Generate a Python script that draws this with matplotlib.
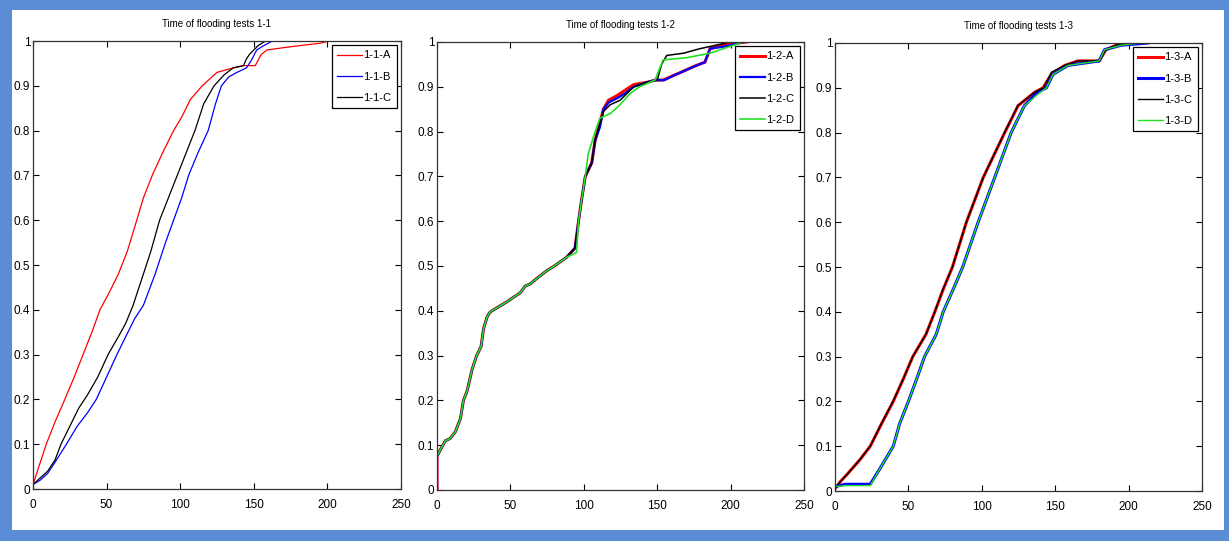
import matplotlib
matplotlib.use("Agg")
import matplotlib.pyplot as plt
from matplotlib.patches import Rectangle

plt.rcParams['font.family'] = ['Liberation Sans', 'DejaVu Sans']
plt.rcParams['font.stretch'] = 'condensed'

# ---- flooding tests 1-1 ----
t_11a = [0, 2, 5, 9, 15, 21.6, 28, 34, 40, 45.5, 52, 58, 64, 70.5, 75, 81, 88, 95.5, 101, 107,
         115, 125, 136, 143, 151, 155, 159, 170, 182, 195, 201, 205]
p_11a = [0.01, 0.03, 0.06, 0.10, 0.15, 0.20, 0.25, 0.30, 0.35, 0.40, 0.44, 0.48, 0.53, 0.60, 0.65, 0.70, 0.75, 0.80, 0.83, 0.87,
         0.90, 0.93, 0.94, 0.945, 0.945, 0.97, 0.98, 0.985, 0.99, 0.995, 1.0, 1.0]
t_11b = [0, 5, 10, 15, 22.7, 30, 37, 43, 50, 57, 63, 69, 75, 83, 90, 95.5, 101, 105.7, 112, 119,
         124, 128, 133, 138.6, 145, 148, 152, 157, 162.5]
p_11b = [0.01, 0.02, 0.035, 0.06, 0.10, 0.14, 0.17, 0.20, 0.25, 0.30, 0.34, 0.38, 0.41, 0.48, 0.55, 0.60, 0.65, 0.70, 0.75, 0.80,
         0.86, 0.90, 0.92, 0.93, 0.94, 0.955, 0.98, 0.99, 1.0]
t_11c = [0, 5, 10, 15, 19, 25, 31, 37, 44, 51, 58, 63, 68, 75, 80, 86, 92, 98, 104, 110,
         116, 123, 130, 136, 143, 145, 147, 150, 153, 158]
p_11c = [0.01, 0.025, 0.04, 0.065, 0.10, 0.14, 0.18, 0.21, 0.25, 0.30, 0.34, 0.37, 0.41, 0.48, 0.53, 0.60, 0.65, 0.70, 0.75, 0.80,
         0.86, 0.90, 0.925, 0.94, 0.945, 0.96, 0.97, 0.98, 0.99, 1.0]

# ---- flooding tests 1-2 ----
t_12a = [0, 0, 2.3, 5.7, 9, 12.5, 16, 18, 20.4, 24, 27, 30, 31.7, 34, 35.6, 37.4, 47.6, 52, 56.7, 60,
         63.5, 69, 75, 80, 88.5, 94, 96.4, 98.6, 101, 105.4, 107.7, 111, 113.4, 116.8, 122.5, 127, 134, 143, 148.8, 154,
         161, 168, 174.6, 182.5, 186, 197, 211]
p_12a = [0, 0.075, 0.09, 0.11, 0.115, 0.13, 0.16, 0.20, 0.22, 0.27, 0.30, 0.32, 0.36, 0.385, 0.395, 0.40, 0.42, 0.43, 0.44, 0.455,
         0.46, 0.475, 0.49, 0.50, 0.52, 0.54, 0.60, 0.65, 0.70, 0.73, 0.78, 0.82, 0.85, 0.87, 0.88, 0.89, 0.905, 0.91, 0.915, 0.915,
         0.925, 0.935, 0.945, 0.955, 0.985, 0.995, 1.0]
t_12b = [0, 0, 2.3, 5.7, 9, 12.5, 16, 18, 20.4, 24, 27, 30, 31.7, 34, 35.6, 37.4, 47.6, 52, 56.7, 60,
         63.5, 69, 75, 80, 88.5, 94, 96.4, 98.6, 101, 105.4, 107.7, 111, 113.4, 117, 123, 128, 134, 143, 148.8, 155,
         161, 168, 175, 182.5, 186, 196, 209]
p_12b = [0, 0.075, 0.09, 0.11, 0.115, 0.13, 0.16, 0.20, 0.22, 0.27, 0.30, 0.32, 0.36, 0.385, 0.395, 0.40, 0.42, 0.43, 0.44, 0.455,
         0.46, 0.475, 0.49, 0.50, 0.52, 0.54, 0.60, 0.65, 0.70, 0.73, 0.78, 0.81, 0.85, 0.865, 0.875, 0.885, 0.90, 0.91, 0.915, 0.915,
         0.925, 0.935, 0.945, 0.955, 0.985, 0.99, 1.0]
t_12c = [0, 0, 2.3, 5.7, 9, 12.5, 16, 18, 20.4, 24, 27, 30, 31.7, 34, 35.6, 37.4, 47.6, 52, 56.7, 60,
         63.5, 69, 75, 80, 88.5, 94, 96.4, 98.6, 101, 105.4, 107.7, 111, 113.4, 118, 124.7, 134, 143, 150, 153, 156.5,
         168, 179, 186, 199.6]
p_12c = [0, 0.075, 0.09, 0.11, 0.115, 0.13, 0.16, 0.20, 0.22, 0.27, 0.30, 0.32, 0.36, 0.385, 0.395, 0.40, 0.42, 0.43, 0.44, 0.455,
         0.46, 0.475, 0.49, 0.50, 0.52, 0.54, 0.60, 0.65, 0.70, 0.73, 0.78, 0.82, 0.845, 0.86, 0.87, 0.90, 0.91, 0.915, 0.95, 0.97,
         0.975, 0.985, 0.99, 1.0]
t_12d = [0, 0, 2.3, 5.7, 9, 12.5, 16, 18, 20.4, 24, 27, 30, 31.7, 34, 35.6, 37.4, 47.6, 52, 56.7, 60,
         63.5, 69, 75, 80, 88.5, 95, 96.4, 98.6, 101, 103, 107.7, 111, 118, 124.7, 131.5, 138, 148.5, 154, 170, 186,
         195, 208.6]
p_12d = [0, 0.075, 0.09, 0.11, 0.115, 0.13, 0.16, 0.20, 0.22, 0.27, 0.30, 0.32, 0.36, 0.385, 0.395, 0.40, 0.42, 0.43, 0.44, 0.455,
         0.46, 0.475, 0.49, 0.50, 0.52, 0.53, 0.60, 0.65, 0.70, 0.75, 0.80, 0.83, 0.84, 0.86, 0.885, 0.90, 0.915, 0.96, 0.965, 0.975,
         0.985, 1.0]

# ---- flooding tests 1-3 ----
t_13a = [0, 3.4, 9, 17, 24, 31.7, 39.7, 46.5, 53, 62, 68, 73.7, 80, 89.5, 101, 115.6, 124.7, 136, 141.7, 147.4,
         156.5, 165.5, 180, 184.5, 191.6, 198]
p_13a = [0.005, 0.02, 0.04, 0.07, 0.10, 0.15, 0.20, 0.25, 0.30, 0.35, 0.40, 0.45, 0.50, 0.60, 0.70, 0.80, 0.86, 0.89, 0.90, 0.93,
         0.95, 0.96, 0.96, 0.985, 0.995, 1.0]
t_13c = [0, 3.4, 9, 17, 24, 31.5, 39.5, 46.5, 53, 62, 68, 73.5, 80, 89.5, 101, 115.5, 124.5, 136, 142, 147.5,
         156.5, 165.5, 180, 184.5, 191.5, 199]
p_13c = [0.005, 0.02, 0.04, 0.07, 0.10, 0.15, 0.20, 0.25, 0.30, 0.35, 0.40, 0.45, 0.50, 0.60, 0.70, 0.80, 0.86, 0.89, 0.90, 0.935,
         0.95, 0.96, 0.96, 0.985, 0.995, 1.0]
t_13b = [0, 7, 24, 30.6, 39.7, 44, 50, 55.6, 61, 69, 73.7, 80.5, 87, 97.5, 108.8, 120, 129, 138, 144, 148.5,
         158.7, 180, 183.6, 195, 213]
p_13b = [0.01, 0.015, 0.015, 0.05, 0.10, 0.15, 0.20, 0.25, 0.30, 0.35, 0.40, 0.45, 0.50, 0.60, 0.70, 0.80, 0.86, 0.89, 0.90, 0.93,
         0.95, 0.96, 0.985, 0.995, 1.0]
t_13d = [0, 7, 24, 30.6, 39.7, 44, 50, 55.6, 61, 69, 73.7, 80.5, 87, 97.5, 108.8, 120, 129, 138, 144, 148.5,
         158.7, 180, 183.6, 195, 208]
p_13d = [0.01, 0.012, 0.012, 0.05, 0.10, 0.15, 0.20, 0.25, 0.30, 0.35, 0.40, 0.45, 0.50, 0.60, 0.70, 0.80, 0.86, 0.885, 0.90, 0.93,
         0.95, 0.96, 0.985, 0.995, 1.0]

x_ticks = [0, 50, 100, 150, 200, 250]
y_ticks = [0, 0.1, 0.2, 0.3, 0.4, 0.5, 0.6, 0.7, 0.8, 0.9, 1]
y_labels = ['0', '0.1', '0.2', '0.3', '0.4', '0.5', '0.6', '0.7', '0.8', '0.9', '1']

fig = plt.figure(figsize=(12.29, 5.41), dpi=100)

# blue frame round the whole figure
frame_col = '#5a8dd5'
W, H = 1229, 541
for (x, y, w, h) in [(0, 0, W, 11), (0, H - 10, W, 10), (0, 0, 12, H), (W - 5, 0, 5, H)]:
    fig.patches.append(Rectangle((x / W, y / H), w / W, h / H, transform=fig.transFigure,
                                 facecolor=frame_col, edgecolor='none', zorder=0))

boxes = [
    [33 / W, 52 / H, 368 / W, 448 / H],
    [437 / W, 51 / H, 367 / W, 448 / H],
    [835 / W, 50 / H, 367 / W, 448 / H],
]


def setup(ax, title):
    ax.set_xlim(0, 250)
    ax.set_ylim(0, 1)
    ax.set_xticks(x_ticks)
    ax.set_xticklabels([str(v) for v in x_ticks])
    ax.set_yticks(y_ticks)
    ax.set_yticklabels(y_labels)
    ax.tick_params(direction='in', top=True, right=True, length=4, width=0.8,
                   labelsize=8.5, colors='black')
    ax.tick_params(axis='x', pad=7)
    ax.tick_params(axis='y', pad=2)
    for s in ax.spines.values():
        s.set_linewidth(0.9)
        s.set_color('#333333')
    ax.set_title(title, fontsize=7, pad=10)


ax1 = fig.add_axes(boxes[0])
ax1.plot(t_11a, p_11a, color='red', lw=0.9, label='1-1-A')
ax1.plot(t_11b, p_11b, color='blue', lw=0.9, label='1-1-B')
ax1.plot(t_11c, p_11c, color='black', lw=0.9, label='1-1-C')
setup(ax1, 'Time of flooding tests 1-1')

ax2 = fig.add_axes(boxes[1])
ax2.plot(t_12a, p_12a, color='red', lw=2.2, label='1-2-A')
ax2.plot(t_12b, p_12b, color='blue', lw=1.6, label='1-2-B')
ax2.plot(t_12c, p_12c, color='black', lw=1.1, label='1-2-C')
ax2.plot(t_12d, p_12d, color='#22e022', lw=1.2, label='1-2-D')
setup(ax2, 'Time of flooding tests 1-2')

ax3 = fig.add_axes(boxes[2])
ax3.plot(t_13a, p_13a, color='red', lw=2.2, label='1-3-A')
ax3.plot(t_13b, p_13b, color='blue', lw=2.2, label='1-3-B')
ax3.plot(t_13c, p_13c, color='black', lw=1.0, label='1-3-C')
ax3.plot(t_13d, p_13d, color='#22e022', lw=1.0, label='1-3-D')
setup(ax3, 'Time of flooding tests 1-3')

for ax in (ax1, ax2, ax3):
    leg = ax.legend(loc='upper right', fontsize=8, frameon=True, fancybox=False,
                    handlelength=2.2, handletextpad=0.15, labelspacing=1.0,
                    borderpad=0.5, borderaxespad=0.35, framealpha=1)
    leg.get_frame().set_edgecolor('black')
    leg.get_frame().set_linewidth(0.9)

fig.savefig('out.png', dpi=100, facecolor='white')
